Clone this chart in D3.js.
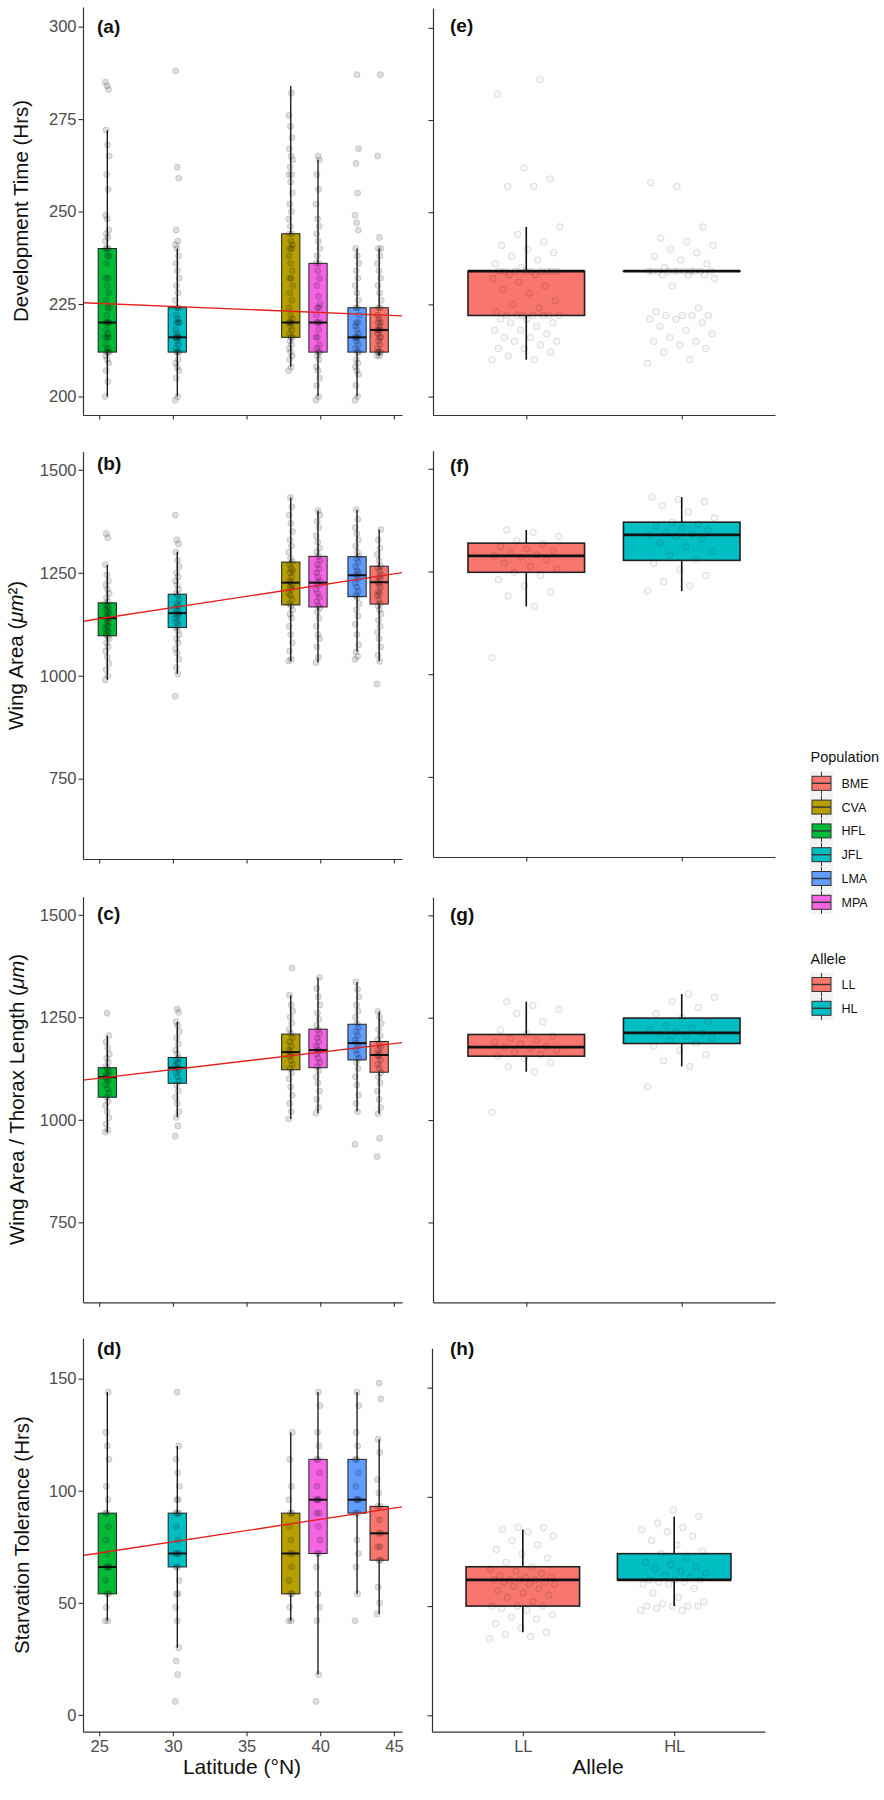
<!DOCTYPE html>
<html><head><meta charset="utf-8">
<script src="https://cdn.jsdelivr.net/npm/d3@7"></script>
<style>
body{margin:0;background:#fff;}
svg{display:block;font-family:"Liberation Sans",Arial,Helvetica,sans-serif;}
</style></head><body>
<svg id="chart" width="884" height="1800"></svg>
<script>
// ---------------- DATA ----------------
const populations = ["BME","CVA","HFL","JFL","LMA","MPA"];
const populationColors = ["#F8766D","#B79F00","#00BA38","#00BFC4","#619CFF","#F564E3"];
const populationLatitude = [44.0, 38.0, 25.55, 30.3, 42.5, 39.85];
const alleles = ["LL","HL"];
const alleleColors = ["#F8766D","#00BFC4"];
const latitudeTicks = [25,30,35,40,45];
const devTimeTicks = [200,225,250,275,300];
const wingTicks = [750,1000,1250,1500];
const starvTicks = [0,50,100,150];
const yTitles = ["Development Time (Hrs)","Wing Area (μm²)","Wing Area / Thorax Length (μm)","Starvation Tolerance (Hrs)"];
const leftLabels = ["(a)","(b)","(c)","(d)"];
const rightLabels = ["(e)","(f)","(g)","(h)"];

// box statistics: [lower whisker, Q1, median, Q3, upper whisker], population order
const devTimePopStats = [[211,212,218,224,240],[208,216,220,244,284],[200,212,220,240,272],[200,212,216,224,240],[200,212,216,224,240],[200,212,220,236,264]];
const wingAreaPopStats = [[1035,1174,1227,1266,1355],[1036,1172,1226,1276,1433],[990,1097,1140,1177,1269],[1004,1117,1152,1198,1301],[1058,1192,1244,1289,1403],[1032,1167,1226,1290,1401]];
const wingThoraxPopStats = [[1015,1116,1158,1191,1264],[1002,1122,1165,1209,1304],[970,1055,1104,1127,1205],[1006,1089,1127,1152,1239],[1020,1146,1187,1233,1336],[1016,1127,1170,1221,1347]];
const starvPopStats = [[45,69,81,93,123],[42,54,72,90,126],[42,54,66,90,144],[30,66,72,90,120],[54,90,96,114,144],[18,72,96,114,144]];

const devTimeAlleleStats = [[210,222,234,234,246],[234,234,234,234,234]];
const wingAreaAlleleStats = [[1165,1248,1288,1319,1351],[1202,1277,1339,1370,1431]];
const wingThoraxAlleleStats = [[1118,1156,1178,1209,1289],[1131,1187,1213,1249,1308]];
const starvAlleleStats = [[38,50,62,68,85],[50,62,62,74,91]];

// regression fits vs latitude: [intercept, slope]
const devTimeFit = [229.31, -0.1651];
const wingAreaFit = [1002.4, 5.442];
const wingThoraxFit = [996.0, 4.219];
const starvFit = [47.15, 1.0023];

// individual observations (population order)
const devTimePopPoints = [
 [211,211,212,212,212,213,214,215,216,216,217,218,218,218,219,220,220,221,222,224,224,226,228,230,232,234,236,238,240,240,243,265,287],
 [207,208,210,211,212,213,214,215,216,216,217,218,219,220,220,220,221,222,224,226,228,230,232,232,234,236,238,240,240,241,242,244,244,246,248,250,252,255,258,260,260,262,264,265,267,270,273,276,282],
 [200,204,207,209,210,211,212,212,212,213,214,216,216,216,217,218,220,220,220,220,222,224,224,226,228,230,232,232,236,238,238,240,240,240,242,243,244,245,248,249,256,260,265,268,272,283,284,285],
 [199,200,205,207,208,209,210,212,212,212,213,214,215,216,216,216,216,217,218,220,220,220,221,222,224,224,226,228,230,232,234,236,238,240,241,242,245,259,262,288],
 [199,200,203,206,207,208,209,210,212,212,213,214,215,216,216,216,217,218,219,220,220,222,224,224,226,228,230,232,234,236,238,240,245,247,249,255,263,267,287],
 [199,200,203,205,207,208,210,211,212,212,213,214,216,216,218,220,220,220,222,224,224,225,227,230,232,234,236,236,238,240,242,244,246,248,252,256,260,264,265]
];
const wingAreaPopPoints = [
 [980,1035,1050,1070,1090,1105,1120,1135,1150,1160,1170,1175,1185,1195,1200,1205,1215,1222,1227,1235,1240,1245,1255,1262,1266,1280,1295,1310,1330,1355],
 [1036,1040,1060,1080,1100,1120,1140,1150,1160,1170,1175,1185,1195,1200,1210,1215,1220,1226,1230,1240,1250,1255,1260,1270,1276,1285,1300,1315,1330,1350,1370,1390,1410,1433],
 [990,1000,1015,1030,1045,1060,1070,1080,1090,1095,1100,1105,1110,1115,1120,1125,1130,1135,1140,1140,1145,1150,1155,1160,1165,1170,1175,1180,1190,1200,1210,1220,1230,1245,1270,1335,1345],
 [950,1004,1020,1040,1055,1065,1080,1090,1100,1110,1117,1125,1130,1140,1145,1150,1152,1158,1165,1170,1175,1185,1195,1200,1210,1220,1230,1240,1250,1265,1280,1300,1320,1330,1390],
 [1040,1047,1058,1075,1100,1125,1145,1160,1175,1190,1195,1205,1215,1225,1235,1244,1250,1255,1265,1275,1285,1290,1300,1315,1330,1345,1360,1380,1403],
 [1032,1045,1070,1090,1100,1120,1140,1155,1165,1170,1180,1190,1200,1210,1220,1226,1230,1240,1250,1260,1270,1280,1290,1300,1310,1325,1340,1360,1375,1390,1401]
];
const wingThoraxPopPoints = [
 [910,955,1015,1030,1050,1070,1090,1105,1115,1125,1135,1145,1155,1158,1162,1170,1178,1185,1195,1205,1220,1235,1250,1264],
 [1002,1020,1040,1060,1080,1100,1115,1125,1135,1145,1155,1160,1165,1170,1180,1190,1200,1210,1220,1235,1250,1265,1280,1304,1370],
 [970,975,990,1005,1020,1035,1045,1055,1065,1075,1085,1095,1100,1104,1108,1112,1118,1125,1130,1140,1150,1160,1175,1190,1205,1260],
 [960,985,1006,1020,1040,1055,1070,1085,1095,1105,1115,1122,1127,1132,1138,1145,1150,1160,1170,1185,1200,1215,1230,1239,1262,1270],
 [940,1020,1040,1060,1085,1105,1125,1140,1150,1160,1170,1180,1187,1195,1205,1215,1225,1235,1250,1265,1280,1300,1318,1336],
 [1016,1030,1050,1070,1090,1105,1120,1130,1140,1150,1160,1168,1172,1180,1190,1200,1210,1220,1230,1245,1260,1280,1300,1320,1347]
];
const starvPopPoints = [
 [45,50,57,69,69,75,75,81,81,87,93,93,99,105,117,123,141,148],
 [42,42,48,54,54,60,66,72,72,78,84,90,90,96,102,114,126],
 [42,42,48,54,54,60,66,66,66,72,78,84,90,90,96,102,114,120,126,144],
 [6,18,24,30,42,48,54,54,60,66,66,72,72,72,78,84,90,90,90,96,96,102,108,114,120,144],
 [42,54,66,72,78,90,90,96,96,96,102,108,114,114,120,126,138,144],
 [6,18,42,48,54,66,72,72,78,84,90,90,96,96,96,102,108,114,114,120,126,138,144]
];

const devTimeAllelePoints = [
 [210,210,211,212,213,213,214,215,215,216,216,217,218,218,219,220,220,221,221,222,222,222,222,222,222,222,223,224,225,226,228,229,230,231,232,233,233,234,234,234,234,234,234,234,234,234,235,236,237,238,239,240,241,242,244,246,257,257,259,262,282,286],
 [209,210,212,213,214,215,215,216,217,218,219,220,221,221,222,222,222,222,223,224,230,232,233,233,233,234,234,234,234,234,234,234,234,234,234,234,235,236,237,238,239,240,241,242,243,246,257,258]
];
const wingAreaAllelePoints = [
 [1040,1165,1190,1200,1215,1230,1240,1248,1255,1262,1270,1278,1285,1288,1290,1295,1300,1305,1310,1318,1325,1335,1345,1351],
 [1202,1215,1225,1240,1255,1270,1280,1290,1300,1310,1320,1330,1335,1340,1342,1345,1350,1355,1360,1365,1370,1380,1395,1410,1420,1425,1431]
];
const wingThoraxAllelePoints = [
 [1019,1118,1130,1140,1150,1156,1160,1165,1170,1175,1178,1180,1185,1190,1195,1200,1205,1210,1220,1240,1260,1270,1280,1289],
 [1081,1131,1145,1160,1170,1180,1187,1195,1200,1205,1210,1213,1216,1220,1225,1230,1240,1250,1260,1275,1290,1300,1308]
];
const starvAllelePoints = [
 [35,36,37,38,40,42,44,45,46,48,49,50,50,50,52,54,55,56,57,58,59,60,60,61,61,62,62,62,62,63,63,64,65,66,67,68,70,72,74,76,78,80,82,84,85,86,86],
 [48,48,49,50,50,50,50,51,52,54,56,58,60,60,61,61,62,62,62,63,64,65,66,67,68,69,70,72,74,75,78,80,82,84,85,86,88,91,94]
];

// ---------------- LAYOUT ----------------
const svg = d3.select("#chart");
svg.append("rect").attr("width",884).attr("height",1800).attr("fill","#fff");
const FONT_TICK = 16.5, TICK_COL = "#4d4d4d", AXIS_COL = "#333";
const latDomain = [23.9, 45.55];
const leftX = [83, 402];
const boxWidthDeg = 1.24;
const jitter = (i, w) => (((i * 0.6180339887) % 1) - 0.5) * 2 * w;

const rows = [
  {yDomain:[195,305.3], ticks:devTimeTicks, popStats:devTimePopStats, popPts:devTimePopPoints, fit:devTimeFit,
   alStats:devTimeAlleleStats, alPts:devTimeAllelePoints,
   L:[7,415], R:[8.3,415], RX:[433,775], labL:33, labR:32, titleX:27.5},
  {yDomain:[555,1544], ticks:wingTicks, popStats:wingAreaPopStats, popPts:wingAreaPopPoints, fit:wingAreaFit,
   alStats:wingAreaAlleleStats, alPts:wingAreaAllelePoints,
   L:[451.7,859], R:[450.7,857], RX:[433,775], labL:470, labR:472, titleX:22.5},
  {yDomain:[555,1544], ticks:wingTicks, popStats:wingThoraxPopStats, popPts:wingThoraxPopPoints, fit:wingThoraxFit,
   alStats:wingThoraxAlleleStats, alPts:wingThoraxAllelePoints,
   L:[896.7,1302.3], R:[897.3,1302.3], RX:[433,775], labL:920, labR:921, titleX:24},
  {yDomain:[-7.5,168], ticks:starvTicks, popStats:starvPopStats, popPts:starvPopPoints, fit:starvFit,
   alStats:starvAlleleStats, alPts:starvAllelePoints,
   L:[1338.3,1731.7], R:[1348.3,1731.7], RX:[432,765], labL:1355, labR:1355, titleX:29}
];

function styleAxis(g){
  g.select(".domain").attr("stroke",AXIS_COL).attr("stroke-width",1.2);
  g.selectAll(".tick line").attr("stroke",AXIS_COL).attr("stroke-width",1.1);
  g.selectAll(".tick text").attr("font-size",FONT_TICK).attr("fill",TICK_COL).attr("font-family",null);
}

function drawBox(g, cx, hw, s, y, color, o){
  g.append("line").attr("x1",cx).attr("x2",cx).attr("y1",y(s[0])).attr("y2",y(s[4]))
    .attr("stroke","#111").attr("stroke-width",o.wl);
  g.append("rect").attr("x",cx-hw).attr("width",2*hw).attr("y",y(s[3])).attr("height",Math.max(0.01,y(s[1])-y(s[3])))
    .attr("fill",color).attr("stroke","#222").attr("stroke-width",o.bl);
  g.append("line").attr("x1",cx-hw).attr("x2",cx+hw).attr("y1",y(s[2])).attr("y2",y(s[2]))
    .attr("stroke","#111").attr("stroke-width",o.ml);
}

rows.forEach((r, ri) => {
  // ----- left panel -----
  const gl = svg.append("g");
  const x = d3.scaleLinear().domain(latDomain).range(leftX);
  const y = d3.scaleLinear().domain(r.yDomain).range([r.L[1], r.L[0]]);
  const hw = (x(boxWidthDeg) - x(0)) / 2;
  populations.forEach((p, i) => {
    drawBox(gl, x(populationLatitude[i]), hw, r.popStats[i], y, populationColors[i], {wl:1.3, bl:1, ml:2});
  });
  populations.forEach((p, i) => {
    gl.append("g").selectAll("circle").data(r.popPts[i]).join("circle")
      .attr("cx",(d,j)=>x(populationLatitude[i] + jitter(j,0.14)))
      .attr("cy",d=>y(d)).attr("r",3.1)
      .attr("fill","rgba(0,0,0,0.13)").attr("stroke","rgba(0,0,0,0.18)").attr("stroke-width",0.7);
  });
  gl.append("line")
    .attr("x1",x(latDomain[0])).attr("y1",y(r.fit[0]+r.fit[1]*latDomain[0]))
    .attr("x2",x(latDomain[1])).attr("y2",y(r.fit[0]+r.fit[1]*latDomain[1]))
    .attr("stroke","#e3211c").attr("stroke-width",1.4);
  const ay = gl.append("g").attr("transform",`translate(${leftX[0]},0)`)
    .call(d3.axisLeft(y).tickValues(r.ticks).tickSize(4.5).tickSizeOuter(0).tickPadding(2).tickFormat(d3.format("d")));
  styleAxis(ay);
  const ax = gl.append("g").attr("transform",`translate(0,${r.L[1]})`)
    .call(d3.axisBottom(x).tickValues(latitudeTicks).tickSize(4.5).tickSizeOuter(0).tickPadding(4.5)
      .tickFormat(ri===3 ? d3.format("d") : ""));
  styleAxis(ax);
  gl.append("text").attr("x",97).attr("y",r.labL).attr("font-size",19).attr("font-weight","bold").attr("fill","#111")
    .text(leftLabels[ri]);
  // y title
  const yc = (r.L[0]+r.L[1])/2;
  const t = gl.append("text").attr("transform",`translate(${r.titleX},${yc}) rotate(-90)`)
    .attr("text-anchor","middle").attr("font-size",20.5).attr("fill","#111");
  const title = yTitles[ri];
  const mu = title.indexOf("μm");
  if (mu >= 0) {
    t.append("tspan").text(title.slice(0,mu));
    t.append("tspan").attr("font-style","italic").text("μm");
    t.append("tspan").text(title.slice(mu+2));
  } else t.text(title);

  // ----- right panel -----
  const gr = svg.append("g");
  const xr = d3.scalePoint().domain(alleles).range(r.RX).padding(0.6);
  const yr = d3.scaleLinear().domain(r.yDomain).range([r.R[1], r.R[0]]);
  const hwr = xr.step() * 0.75 / 2;
  alleles.forEach((a, i) => {
    drawBox(gr, xr(a), hwr, r.alStats[i], yr, alleleColors[i], {wl:1.6, bl:1.6, ml:2.8});
  });
  alleles.forEach((a, i) => {
    gr.append("g").selectAll("circle").data(r.alPts[i]).join("circle")
      .attr("cx",(d,j)=>xr(a) + jitter(j,0.22)*xr.step())
      .attr("cy",d=>yr(d)).attr("r",3.3)
      .attr("fill","rgba(0,0,0,0.03)").attr("stroke","rgba(0,0,0,0.16)").attr("stroke-width",0.8);
  });
  const ayr = gr.append("g").attr("transform",`translate(${r.RX[0]},0)`)
    .call(d3.axisLeft(yr).tickValues(r.ticks).tickSize(4.5).tickSizeOuter(0).tickFormat(""));
  styleAxis(ayr);
  const axr = gr.append("g").attr("transform",`translate(0,${r.R[1]})`)
    .call(d3.axisBottom(xr).tickSize(4.5).tickSizeOuter(0).tickPadding(4.5)
      .tickFormat(ri===3 ? (d=>d) : ""));
  styleAxis(axr);
  gr.append("text").attr("x",450).attr("y",r.labR).attr("font-size",19).attr("font-weight","bold").attr("fill","#111")
    .text(rightLabels[ri]);
});

// x titles
svg.append("text").attr("x",242).attr("y",1774).attr("text-anchor","middle").attr("font-size",21).attr("fill","#111").text("Latitude (°N)");
svg.append("text").attr("x",598).attr("y",1774).attr("text-anchor","middle").attr("font-size",21).attr("fill","#111").text("Allele");

// ---------------- LEGENDS ----------------
function legend(title, names, colors, titleY, firstY){
  const g = svg.append("g");
  g.append("text").attr("x",810.5).attr("y",titleY).attr("font-size",14.5).attr("fill","#111").text(title);
  const step = 23.8;
  g.append("rect").attr("x",810).attr("y",firstY-step/2).attr("width",23).attr("height",step*names.length).attr("fill","#f2f2f2");
  names.forEach((n,i)=>{
    const cy = firstY + i*step, cx = 821.5;
    g.append("line").attr("x1",cx).attr("x2",cx).attr("y1",cy-11.5).attr("y2",cy+11.5).attr("stroke","#333").attr("stroke-width",1);
    g.append("rect").attr("x",cx-9.5).attr("y",cy-7).attr("width",19).attr("height",14).attr("fill",colors[i]).attr("stroke","#333").attr("stroke-width",1);
    g.append("line").attr("x1",cx-9.5).attr("x2",cx+9.5).attr("y1",cy).attr("y2",cy).attr("stroke","#333").attr("stroke-width",1.4);
    g.append("text").attr("x",841.5).attr("y",cy+4.4).attr("font-size",12.5).attr("fill","#111").text(n);
  });
}
legend("Population", populations, populationColors, 762, 783.3);
legend("Allele", alleles, alleleColors, 963.5, 984.5);
</script>
</body></html>
